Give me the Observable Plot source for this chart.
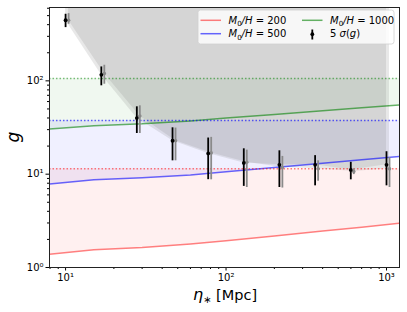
<!DOCTYPE html>
<html>
<head>
<meta charset="utf-8">
<script src="https://cdn.jsdelivr.net/npm/d3@7"></script>
<script src="https://cdn.jsdelivr.net/npm/@observablehq/plot@0.6"></script>
<style>
  html, body { margin: 0; padding: 0; background: white; }
  #chart { width: 407px; height: 312px; }
</style>
</head>
<body>
<div id="chart"></div>
<script>
// ---- data ----
const eta = [10, 16.7, 27.8, 46.4, 77.4, 129, 215, 359, 599, 1000];
const gBlack = [446, 116, 39.9, 22.8, 16.7, 13.2, 12.6, 12.6, 11.1, 12.6];
const loBlack = [372, 88.5, 27.3, 13.9, 8.73, 7.4, 7.2, 7.5, 8.7, 7.5];
const hiBlack = [517, 141, 52.7, 31.4, 24.4, 18.7, 17.8, 15.8, 13.4, 17.4];
const gGray = [446, 120, 42, 22.8, 16.9, 13.4, 11.8, 11.4, 10.7, 11.4];
const loGray = [404, 92, 27.3, 13.9, 8.7, 7.2, 7.1, 8.4, 9.9, 7.2];
const hiGray = [525, 147, 54, 31.2, 24.8, 18.1, 15.5, 13.9, 11.4, 15.1];

const etaLine = [7.94, 15, 30, 60, 100, 200, 400, 700, 1205];
const line200 = [1.39, 1.55, 1.64, 1.79, 1.94, 2.18, 2.46, 2.70, 2.98];
const line500 = [7.86, 8.69, 9.18, 9.8, 10.6, 11.8, 13.1, 14.3, 15.5];
const line1000 = [30.4, 33.1, 34.6, 37.2, 39.9, 43.6, 47.7, 51.4, 55];

const level200 = 11.45;
const level500 = 37.6;
const level1000 = 106;

const seriesNames = ["200", "500", "1000"];
const xMajor = [10, 100, 1000];
const xMajorLabels = ["10¹", "10²", "10³"];
const xMinor = [8, 9, 20, 30, 40, 50, 60, 70, 80, 90, 200, 300, 400, 500, 600, 700, 800, 900];
const yMajor = [1, 10, 100];
const yMajorLabels = ["10⁰", "10¹", "10²"];
const yMinor = [2, 3, 4, 5, 6, 7, 8, 9, 20, 30, 40, 50, 60, 70, 80, 90, 200, 300, 400, 500, 600];

// ---- tables ----
const ptsBlack = eta.map((e, i) => ({eta: e, g: gBlack[i], lo: loBlack[i], hi: hiBlack[i], top: 1e4}));
const ptsGray = eta.map((e, i) => ({eta: e, g: gGray[i], lo: loGray[i], hi: hiGray[i], top: 1e4}));
const mk = (vals, lvl) => etaLine.map((e, i) => ({eta: e, g: vals[i], lvl}));
const rows200 = mk(line200, level200);
const rows500 = mk(line500, level500);
const rows1000 = mk(line1000, level1000);

const cR = "#ff0000", cB = "#0000ff", cG = "#008000";
const fmtX = new Map(xMajor.map((v, i) => [v, xMajorLabels[i]]));
const fmtY = new Map(yMajor.map((v, i) => [v, yMajorLabels[i]]));

const chart = Plot.plot({
  width: 407,
  height: 312,
  marginLeft: 49,
  marginRight: 8,
  marginTop: 7,
  marginBottom: 45,
  style: {fontFamily: "DejaVu Sans", fontSize: "10px", background: "white", color: "black"},
  x: {type: "log", domain: [7.94, 1205]},
  y: {type: "log", domain: [1, 611]},
  marks: [
    Plot.areaY(rows200, {x: "eta", y1: "g", y2: "lvl", fill: cR, fillOpacity: 0.06, clip: true}),
    Plot.areaY(rows500, {x: "eta", y1: "g", y2: "lvl", fill: cB, fillOpacity: 0.06, clip: true}),
    Plot.areaY(rows1000, {x: "eta", y1: "g", y2: "lvl", fill: cG, fillOpacity: 0.06, clip: true}),
    Plot.areaY(ptsGray, {x: "eta", y1: "g", y2: "top", fill: "#808080", fillOpacity: 0.18, dx: 3, clip: true}),
    Plot.areaY(ptsBlack, {x: "eta", y1: "g", y2: "top", fill: "#808080", fillOpacity: 0.18, clip: true}),
    Plot.line(rows200, {x: "eta", y: "g", stroke: cR, strokeOpacity: 0.5, strokeWidth: 1.5, clip: true}),
    Plot.line(rows500, {x: "eta", y: "g", stroke: cB, strokeOpacity: 0.6, strokeWidth: 1.5, clip: true}),
    Plot.line(rows1000, {x: "eta", y: "g", stroke: cG, strokeOpacity: 0.6, strokeWidth: 1.5, clip: true}),
    Plot.ruleY([level200], {stroke: cR, strokeOpacity: 0.5, strokeWidth: 1.5, strokeDasharray: "1.5,2"}),
    Plot.ruleY([level500], {stroke: cB, strokeOpacity: 0.6, strokeWidth: 1.5, strokeDasharray: "1.5,2"}),
    Plot.ruleY([level1000], {stroke: cG, strokeOpacity: 0.5, strokeWidth: 1.5, strokeDasharray: "1.5,2"}),
    Plot.ruleX(ptsGray, {x: "eta", y1: "lo", y2: "hi", stroke: "#8a8a8a", strokeWidth: 1.8, dx: 3}),
    Plot.dot(ptsGray, {x: "eta", y: "g", r: 1.8, fill: "#8a8a8a", dx: 3}),
    Plot.ruleX(ptsBlack, {x: "eta", y1: "lo", y2: "hi", stroke: "black", strokeWidth: 1.8}),
    Plot.dot(ptsBlack, {x: "eta", y: "g", r: 1.9, fill: "black"}),
    Plot.axisX({ticks: xMajor, tickFormat: d => fmtX.get(d), tickSize: 3.5, tickPadding: 2.5, label: null, fontSize: 10}),
    Plot.axisX({ticks: xMinor, tickFormat: () => "", tickSize: 2, label: null}),
    Plot.axisY({ticks: yMajor, tickFormat: d => fmtY.get(d), tickSize: 3.5, tickPadding: 2.5, label: null, fontSize: 10}),
    Plot.axisY({ticks: yMinor, tickFormat: () => "", tickSize: 2, label: null}),
    Plot.frame({stroke: "#222", strokeWidth: 1})
  ]
});
document.getElementById("chart").appendChild(chart);

// ---- axis labels and legend ----
const svg = d3.select(chart);
const fam = "DejaVu Sans";

svg.append("text")
  .attr("transform", "translate(19,137) rotate(-90)")
  .attr("text-anchor", "middle")
  .attr("font-family", fam).attr("font-size", "17px").attr("font-style", "italic")
  .attr("fill", "black").text("g");

const xl = svg.append("text")
  .attr("x", 225).attr("y", 300)
  .attr("text-anchor", "middle")
  .attr("font-family", fam).attr("font-size", "14.5px").attr("fill", "black");
xl.append("tspan").attr("font-style", "italic").attr("font-size", "16px").text("η");
xl.append("tspan").attr("font-size", "10px").attr("dy", 3).text("∗");
xl.append("tspan").attr("dy", -3).text(" [Mpc]");

const lg = svg.append("g").attr("font-family", fam).attr("font-size", "10px").attr("fill", "black").attr("text-anchor", "start");
lg.append("rect").attr("x", 198).attr("y", 10).attr("width", 196).attr("height", 34)
  .attr("rx", 2.5).attr("fill", "white").attr("fill-opacity", 0.8).attr("stroke", "#d0d0d0").attr("stroke-width", 0.8);

const handles = [
  {x: 200.5, y: 20.3, c: cR, o: 0.5, name: seriesNames[0]},
  {x: 200.5, y: 33.7, c: cB, o: 0.6, name: seriesNames[1]},
  {x: 302, y: 20.3, c: cG, o: 0.6, name: seriesNames[2]}
];
handles.forEach(h => {
  lg.append("line").attr("x1", h.x).attr("x2", h.x + 20.5).attr("y1", h.y).attr("y2", h.y)
    .attr("stroke", h.c).attr("stroke-opacity", h.o).attr("stroke-width", 1.5);
  const t = lg.append("text").attr("x", h.x + 28).attr("y", h.y + 3.6).attr("text-anchor", "start");
  t.append("tspan").attr("font-style", "italic").text("M");
  t.append("tspan").attr("font-size", "7px").attr("dy", 2.2).text("0");
  t.append("tspan").attr("dy", -2.2).attr("font-style", "italic").text("/H");
  t.append("tspan").text(" = " + h.name);
});
lg.append("line").attr("x1", 312.3).attr("x2", 312.3).attr("y1", 29.5).attr("y2", 39.5)
  .attr("stroke", "black").attr("stroke-width", 1.8);
lg.append("circle").attr("cx", 312.3).attr("cy", 34.2).attr("r", 1.9).attr("fill", "black");
const st = lg.append("text").attr("x", 330).attr("y", 37.3).attr("text-anchor", "start");
st.append("tspan").text("5 ");
st.append("tspan").attr("font-style", "italic").text("σ");
st.append("tspan").text("(");
st.append("tspan").attr("font-style", "italic").text("g");
st.append("tspan").text(")");
</script>
</body>
</html>
